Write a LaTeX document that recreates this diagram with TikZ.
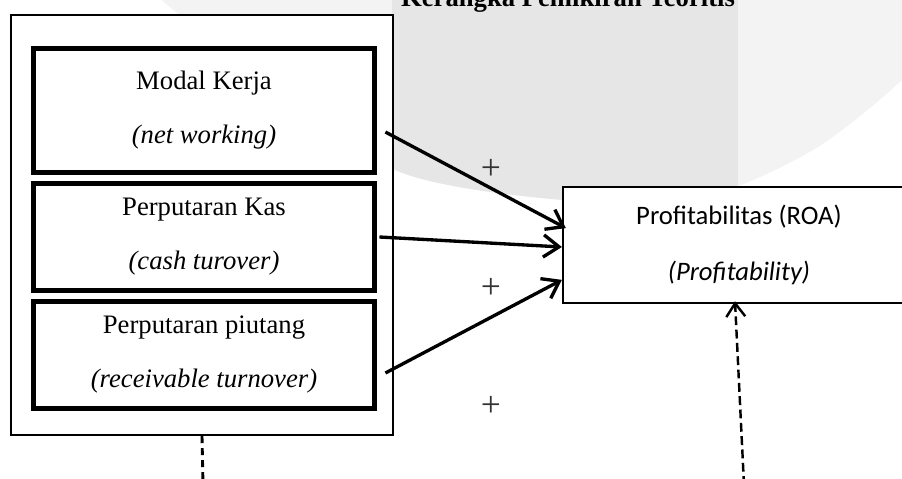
\documentclass[tikz,border=0pt]{standalone}
\usepackage{fontspec}
\setmainfont{Liberation Serif}
\newfontfamily\calibri{Carlito}
\usetikzlibrary{arrows.meta}

\definecolor{wmlight}{HTML}{F3F3F3}
\definecolor{wmdark}{HTML}{E6E6E6}
\newcommand{\twelve}{\fontsize{12}{14.5}\selectfont}

\tikzset{
  framebox/.style={draw, line width=1pt, fill=white, inner sep=0pt},
  varbox/.style={draw, line width=2.2pt, fill=white, inner sep=0pt,
    minimum width=153.5pt, align=center, font=\twelve},
  depbox/.style={draw, line width=1pt, fill=white, inner sep=0pt,
    align=center, font=\calibri\fontsize{12}{14.6}\selectfont},
  arr/.style={line width=1.5pt, -{Straight Barb[length=7pt,width=10pt]}},
  dashline/.style={line width=1.3pt, dash pattern=on 3.2pt off 2.2pt},
  dasharr/.style={line width=1.1pt, dash pattern=on 4pt off 2pt,
    -{Straight Barb[length=6pt,width=8.5pt]}},
  sign/.style={font=\fontsize{16}{18}\selectfont, text=black!80, inner sep=0pt}
}

\begin{document}
\begin{tikzpicture}[x=0.45pt,y=-0.45pt]
\useasboundingbox (0,0) rectangle (902,479);
\clip (0,0) rectangle (902,479);

% watermark in the background
\begin{scope}
\clip plot[smooth] coordinates {(150,-20) (165,3) (270,85) (400,172) (563,200) (700,198) (813,150) (902,80) (930,40)} -- (930,-20) -- cycle;
\fill[wmlight] (0,-20) rectangle (930,300);
\fill[wmdark] (392,-20) rectangle (738,300);
\end{scope}

\node[anchor=base, font=\twelve\bfseries] (title) at (568,7) {Kerangka Pemikiran Teoritis};

% independent variables
\node[framebox, minimum width=171.9pt, minimum height=189pt] (vars) at (202,225) {};
\node[varbox, minimum height=55.8pt] (modal) at (204,110.5) {Modal Kerja\\[9.8pt]\textit{(net working)}};
\node[varbox, minimum height=48.2pt] (kas) at (204,237) {Perputaran Kas\\[9.8pt]\textit{(cash turover)}};
\node[varbox, minimum height=48.2pt] (piutang) at (204,355) {Perputaran piutang\\[9.8pt]\textit{(receivable turnover)}};

% dependent variable
\node[depbox, minimum width=158.4pt, minimum height=52.2pt] (roa) at (739,245) {Profitabilitas (ROA)\\[10.6pt]\textit{(Profitability)}};

\draw[arr] ([xshift=3.8pt,yshift=-9.7pt]modal.east) -- ([xshift=1.8pt,yshift=7.6pt]roa.west);
\draw[arr] ([xshift=1.1pt]kas.east) -- ([yshift=-0.9pt]roa.west);
\draw[arr] ([xshift=3.8pt,yshift=-8.1pt]piutang.east) -- ([yshift=-15.7pt]roa.west);

\node[sign] (plus1) at (491,169) {+};
\node[sign] (plus2) at (491,288) {+};
\node[sign] (plus3) at (491,406) {+};

\coordinate (lowL) at (203,485);
\coordinate (lowR) at (744,485);
\draw[dashline] (vars.south) -- (lowL);
\draw[dasharr] (lowR) -- ([xshift=-1.8pt,yshift=1.3pt]roa.south);
\end{tikzpicture}
\end{document}
